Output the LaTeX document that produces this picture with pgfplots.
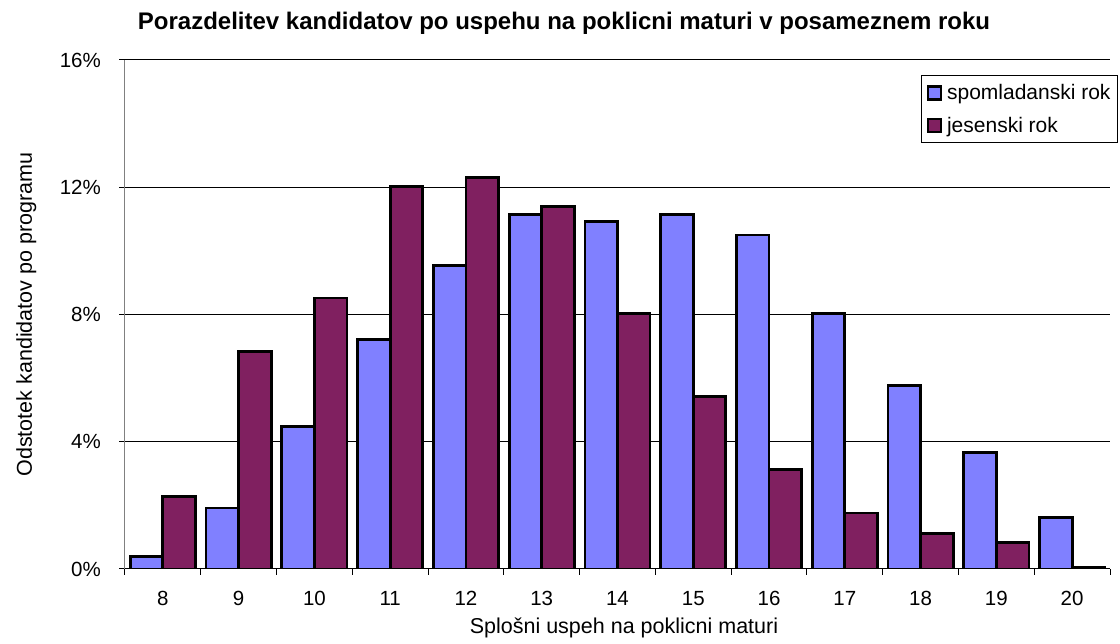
\documentclass[border=0pt]{standalone}
\usepackage{fontspec}
\setmainfont{Liberation Sans}
\usepackage{pgfplots}
\pgfplotsset{compat=1.18}
\definecolor{spring}{HTML}{8080FF}
\definecolor{autumn}{HTML}{802060}
\begin{document}
\begin{tikzpicture}
\begin{axis}[
  scale only axis, width=985pt, height=509pt,
  xmin=7.5, xmax=20.5, ymin=0, ymax=16,
  axis x line=bottom, axis y line=left,
  x axis line style={-, black, line width=1pt},
  y axis line style={-, gray, line width=1pt},
  /pgf/number format/assume math mode=true,
  xtick={8,...,20},
  xticklabels={8,9,10,11,12,13,14,15,16,17,18,19,20},
  minor xtick={7.5,8.5,...,20.5},
  major x tick style={draw=none},
  minor x tick style={black, line width=1pt},
  ytick={0,4,8,12,16},
  yticklabels={0\%,4\%,8\%,12\%,16\%},
  tick align=outside,
  major tick length=6pt, minor tick length=6pt,
  major y tick style={black, line width=1pt},
  ymajorgrids, grid style={black, line width=1pt},
  ticklabel style={font=\fontsize{20.5}{24}\selectfont},
  yticklabel style={anchor=east, inner sep=0pt, xshift=-18pt},
  xticklabel style={anchor=north, inner sep=0pt, yshift=-16pt},
  xlabel={Splošni uspeh na poklicni maturi},
  xlabel style={at={(axis description cs:0.5066,-0.1275)}, anchor=base, font=\fontsize{21.5}{25}\selectfont},
  ylabel={Odstotek kandidatov po programu},
  ylabel style={at={(axis description cs:-0.0945,0.5)}, anchor=base, rotate=0, font=\fontsize{21.5}{25}\selectfont},
  title={Porazdelitev kandidatov po uspehu na poklicni maturi v posameznem roku},
  title style={at={(axis description cs:0.4457,1.0472)}, anchor=base, font=\bfseries\fontsize{24}{28}\selectfont},
  ybar=0pt, bar width=0.43,
  legend style={at={(1.0081,0.9705)}, anchor=north east, draw=black, line width=1pt,
    font=\fontsize{21}{25}\selectfont, inner xsep=5pt, inner ysep=7pt, row sep=12pt,
    cells={anchor=west},
    /tikz/every odd column/.append style={column sep=3pt}},
  legend image code/.code={\draw[#1, line width=2.4pt] (0pt,-6.5pt) rectangle (13pt,6.5pt);},
]
\addplot[fill=spring, draw=black, line width=2.8pt] coordinates {
(8,0.39) (9,1.92) (10,4.48) (11,7.21) (12,9.55) (13,11.15) (14,10.92)
(15,11.15) (16,10.50) (17,8.02) (18,5.77) (19,3.66) (20,1.61)};
\addlegendentry{spomladanski rok}
\addplot[fill=autumn, draw=black, line width=2.8pt] coordinates {
(8,2.29) (9,6.83) (10,8.52) (11,12.02) (12,12.30) (13,11.39) (14,8.02)
(15,5.43) (16,3.13) (17,1.76) (18,1.12) (19,0.84) (20,0.05)};
\addlegendentry{jesenski rok}
\end{axis}
\pgfresetboundingbox
\useasboundingbox (-125pt,-75pt) rectangle (995pt,569pt);
\end{tikzpicture}
\end{document}
